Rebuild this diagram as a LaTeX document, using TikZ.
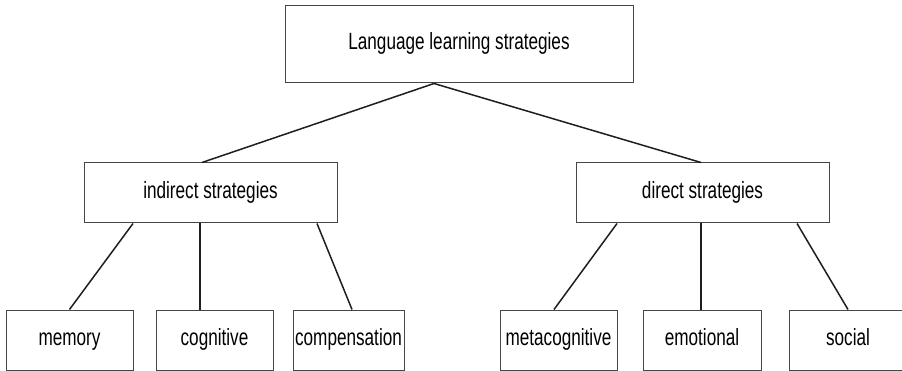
\documentclass[tikz,border=0pt]{standalone}
\usepackage{fontspec}
\setmainfont{Liberation Sans}[FakeStretch=0.73]
\usepackage{tikz}
\usetikzlibrary{positioning}
\definecolor{boxline}{RGB}{70,70,70}
\definecolor{edgeline}{RGB}{30,30,30}
\tikzset{
  stratbox/.style={rectangle, draw=boxline, line width=1pt, inner sep=0pt,
    text height=1.15em, text depth=0.1em, font=\fontsize{23.5}{27}\selectfont},
  edge/.style={draw=edgeline, line width=1.5pt}
}

\begin{document}
\begin{tikzpicture}[x=1pt, y=-1pt]
\useasboundingbox (0,0) rectangle (902,371);
\clip (0,0) rectangle (902,371);
% Root
\node[stratbox, minimum width=348pt, minimum height=77pt] (root) at (459,44.5) {Language learning strategies};
% Level 1
\node[stratbox, minimum width=253pt, minimum height=60pt] (ind) at (210.5,193) {indirect strategies};
\node[stratbox, minimum width=253pt, minimum height=60pt] (dir) at (702.5,193) {direct strategies};
% Level 2
\node[stratbox, minimum width=127pt, minimum height=60pt] (mem) at (69.5,340) {memory};
\node[stratbox, minimum width=117pt, minimum height=60pt] (cog) at (214.5,340) {cognitive};
\node[stratbox, minimum width=111pt, minimum height=60pt] (comp) at (348.5,340) {compensation};
\node[stratbox, minimum width=117pt, minimum height=60pt] (meta) at (558.5,340) {metacognitive};
\node[stratbox, minimum width=118pt, minimum height=60pt] (emo) at (702,340) {emotional};
\node[stratbox, minimum width=118pt, minimum height=60pt] (soc) at (848,340) {social};

% Edges
\draw[edge] ([xshift=-25pt]root.south) -- ([xshift=-8.5pt]ind.north);
\draw[edge] ([xshift=-25pt]root.south) -- ([xshift=-1.5pt]dir.north);
\draw[edge] ([xshift=-77.5pt]ind.south) -- (mem.north);
\draw[edge] ([xshift=-10.5pt]ind.south) -- ([xshift=-14.5pt]cog.north);
\draw[edge] ([xshift=106.5pt]ind.south) -- ([xshift=3.5pt]comp.north);
\draw[edge] ([xshift=-85.5pt]dir.south) -- ([xshift=-4.5pt]meta.north);
\draw[edge] ([xshift=-1.5pt]dir.south) -- ([xshift=-1pt]emo.north);
\draw[edge] ([xshift=94.5pt]dir.south) -- (soc.north);
\end{tikzpicture}
\end{document}
